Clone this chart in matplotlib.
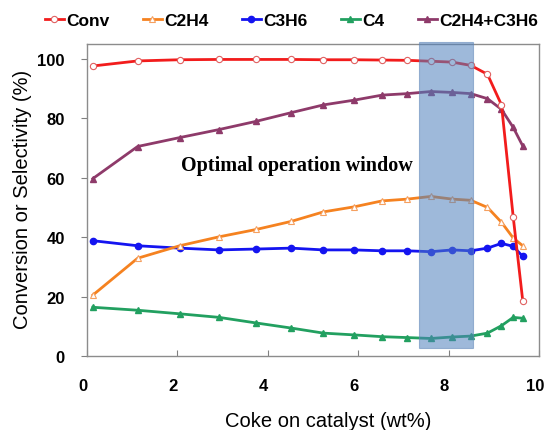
import matplotlib
matplotlib.use("Agg")
import matplotlib.pyplot as plt
from matplotlib.patches import Rectangle
from matplotlib.transforms import ScaledTranslation

plt.rcParams['font.family'] = ['Liberation Sans', 'DejaVu Sans']

# coke on catalyst (wt%)
coke = [0.13, 1.12, 2.05, 2.92, 3.75, 4.52, 5.23, 5.91, 6.53, 7.09,
        7.61, 8.08, 8.49, 8.86, 9.17, 9.43, 9.64]

conv = [97.6, 99.3, 99.7, 99.8, 99.8, 99.8, 99.7, 99.7, 99.6, 99.5,
        99.2, 98.9, 97.8, 94.8, 84.5, 46.7, 18.6]
c2h4 = [20.5, 32.9, 37.1, 40.1, 42.6, 45.3, 48.5, 50.2, 52.2, 52.8,
        53.7, 52.8, 52.4, 50.0, 45.0, 39.7, 37.1]
c3h6 = [38.8, 37.1, 36.3, 35.7, 36.0, 36.3, 35.7, 35.7, 35.4, 35.4,
        35.1, 35.7, 35.4, 36.3, 37.9, 36.9, 33.5]
c4 = [16.4, 15.4, 14.2, 13.0, 11.1, 9.4, 7.7, 7.1, 6.5, 6.2,
      5.9, 6.4, 6.7, 7.7, 10.2, 13.0, 12.7]
olefins = [59.7, 70.5, 73.5, 76.2, 79.0, 81.9, 84.5, 86.1, 87.8, 88.3,
           89.0, 88.7, 88.3, 86.6, 83.0, 76.9, 70.7]

window = (7.35, 8.53)

fig = plt.figure(figsize=(5.46, 4.31), dpi=100)
ax = fig.add_axes([0.1593, 0.1717, 0.8279, 0.7239])

ax.plot(coke, olefins, color='#8E3A6A', lw=2, marker='^', ms=4,
        label='C2H4+C3H6', zorder=3)
ax.plot(coke, c4, color='#22A060', lw=2, marker='^', ms=4,
        label='C4', zorder=3)
ax.plot(coke, c3h6, color='#1414F0', lw=2, marker='o', ms=4.5,
        label='C3H6', zorder=3)
ax.plot(coke, c2h4, color='#F58220', lw=2, marker='^', ms=4.5,
        mfc='white', mec='#F5A060', mew=0.8, label='C2H4', zorder=3)
ax.plot(coke, conv, color='#F21C1C', lw=2, marker='o', ms=4.5,
        mfc='white', mec='#E06060', mew=0.8, label='Conv', zorder=4)

# operation window shading
ax.add_patch(Rectangle((window[0], 2.7), window[1] - window[0], 103.1,
                       facecolor='#4F81BD', edgecolor='#5F86B8', lw=0.8,
                       alpha=0.55, zorder=5, clip_on=False))

ax.text(4.65, 64.2, 'Optimal operation window', family='Liberation Serif',
        fontweight='bold', fontsize=14.5, ha='center', va='center', zorder=6)

ax.set_xlim(0, 10)
ax.set_ylim(0, 105)
ax.set_xticks([0, 2, 4, 6, 8, 10])
ax.set_yticks([0, 20, 40, 60, 80, 100])
ax.tick_params(axis='x', direction='in', length=4, pad=16, labelsize=12,
               color='#808080')
ax.tick_params(axis='y', direction='out', length=4, pad=12, labelsize=12,
               color='#808080')
for lab in ax.get_xticklabels() + ax.get_yticklabels():
    lab.set_fontweight('bold')
# tick labels sit a little left of their ticks in the original
shift = ScaledTranslation(-4 / 100, 0, fig.dpi_scale_trans)
for lab in ax.get_xticklabels():
    lab.set_transform(lab.get_transform() + shift)
for s in ax.spines.values():
    s.set_color('#8C8C8C')
    s.set_linewidth(1)

ax.set_xlabel('Coke on catalyst (wt%)', fontsize=14.5)
ax.xaxis.set_label_coords(0.5 + 15 / 452, -0.177)
ax.set_ylabel('Conversion or Selectivity (%)', fontsize=14.5)
ax.yaxis.set_label_coords(-0.122, 0.506)

handles, labels = ax.get_legend_handles_labels()
order = ['Conv', 'C2H4', 'C3H6', 'C4', 'C2H4+C3H6']
hmap = dict(zip(labels, handles))
fig.legend([hmap[k] for k in order], order, loc='center',
           bbox_to_anchor=(0.534, 0.950), ncol=5, frameon=False,
           prop={'weight': 'bold', 'size': 12.5}, handlelength=1.1,
           handletextpad=0.15, columnspacing=1.9, borderaxespad=0)

fig.savefig('out.png', dpi=100)
